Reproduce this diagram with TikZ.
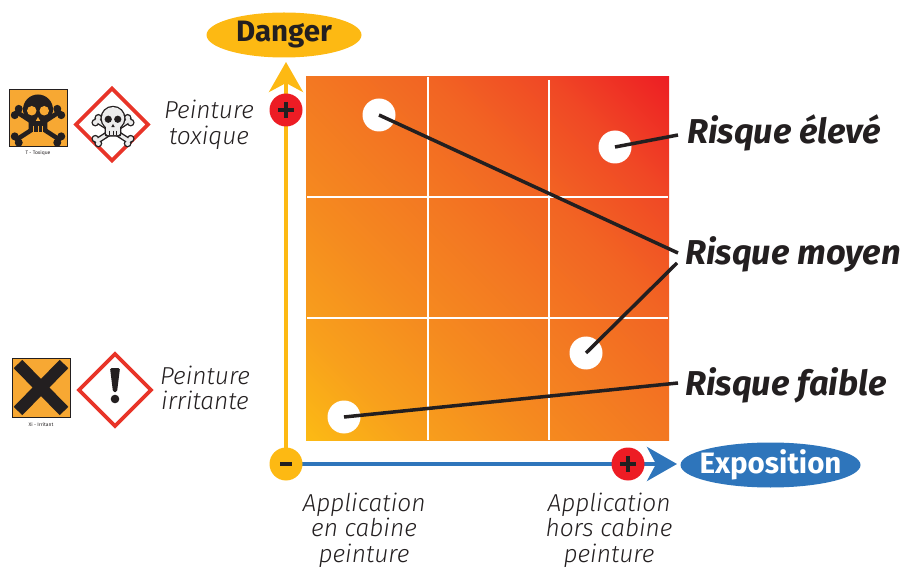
\documentclass[tikz,border=0pt]{standalone}
\usepackage{fontspec}
\setmainfont{Fira Sans}
\newfontfamily\lightfont{Fira Sans Light}
\usetikzlibrary{arrows.meta,shapes.geometric}
\definecolor{ink}{RGB}{35,31,32}
\definecolor{axY}{RGB}{253,185,19}
\definecolor{axB}{RGB}{46,117,187}
\definecolor{signR}{RGB}{237,28,36}
\definecolor{gA}{RGB}{252,186,20}
\definecolor{gB}{RGB}{248,160,28}
\definecolor{gC}{RGB}{245,138,31}
\definecolor{gD}{RGB}{243,120,34}
\definecolor{gE}{RGB}{242,100,35}
\definecolor{gF}{RGB}{240,72,37}
\definecolor{gG}{RGB}{237,30,36}
\definecolor{pictoO}{RGB}{247,168,51}
\definecolor{ghsR}{RGB}{232,52,40}
\pgfdeclareverticalshading{riskgrad}{100bp}{color(0bp)=(gA); color(14.6bp)=(gA); color(25.2bp)=(gB); color(38bp)=(gC); color(50bp)=(gD); color(62bp)=(gE); color(73.4bp)=(gF); color(85.4bp)=(gG); color(100bp)=(gG)}
\newcommand\mySkull[4]{%
 \begin{scope}[shift={#1},scale=#2]
  \draw[line width=4.5pt,#3,line cap=round] (-17,-4) -- (17,18) (17,-4) -- (-17,18);
  \foreach \p in {(-18.6,-1.5),(-15.4,-6.5),(15.4,20.5),(18.6,15.5),(18.6,-1.5),(15.4,-6.5),(-15.4,20.5),(-18.6,15.5)}
    \fill[#3] \p circle (3.2);
  \fill[#3] (0,-6) circle (12);
  \fill[#3,rounded corners=2pt] (-7.5,0) rectangle (7.5,12);
  \fill[#4] (-5,-5) circle (3.8) (5,-5) circle (3.8);
  \fill[#4] (0,0) -- (-1.8,3.2) -- (1.8,3.2) -- cycle;
  \draw[#4,line width=1pt] (-3.5,7) -- (-3.5,12) (0,7) -- (0,12) (3.5,7) -- (3.5,12);
 \end{scope}}
\newcommand\ghsSkull[2]{%
 \begin{scope}[shift={#1},scale=#2]
  \draw[line width=6pt,ink,line cap=round] (-17,-4) -- (17,18) (17,-4) -- (-17,18);
  \foreach \p in {(-18.6,-1.5),(-15.4,-6.5),(15.4,20.5),(18.6,15.5),(18.6,-1.5),(15.4,-6.5),(-15.4,20.5),(-18.6,15.5)}
    \fill[ink] \p circle (4.1);
  \draw[line width=3.2pt,gray!15,line cap=round] (-17,-4) -- (17,18) (17,-4) -- (-17,18);
  \foreach \p in {(-18.6,-1.5),(-15.4,-6.5),(15.4,20.5),(18.6,15.5),(18.6,-1.5),(15.4,-6.5),(-15.4,20.5),(-18.6,15.5)}
    \fill[gray!15] \p circle (2.6);
  \fill[ink] (0,-6) circle (13.2);
  \fill[ink,rounded corners=2pt] (-8.7,-1) rectangle (8.7,13.2);
  \fill[gray!15] (0,-6) circle (11.8);
  \fill[gray!15,rounded corners=1.5pt] (-7.3,0) rectangle (7.3,11.8);
  \fill[ink] (-5,-5) circle (3.8) (5,-5) circle (3.8);
  \fill[ink] (0,0) -- (-1.8,3.2) -- (1.8,3.2) -- cycle;
  \draw[ink,line width=0.9pt] (-3.5,7) -- (-3.5,12) (0,7) -- (0,12) (3.5,7) -- (3.5,12);
 \end{scope}}
\begin{document}
\begin{tikzpicture}[x=1pt,y=-1pt,
  dot/.style={circle,fill=white,minimum size=33pt,inner sep=0pt},
  leader/.style={line width=3.5pt,draw=ink},
  risk/.style={font=\fontsize{34.5}{38}\selectfont\bfseries\itshape,text=ink,inner sep=0pt,anchor=base west},
  lbl/.style={font=\fontsize{24.5}{25.5}\selectfont\lightfont\itshape,text=ink,align=center,inner sep=0pt},
  sign/.style={circle,minimum size=33pt,inner sep=0pt},
  axlab/.style={ellipse,minimum height=45pt,inner xsep=-12pt,inner ysep=0pt,font=\fontsize{29.5}{32}\selectfont\bfseries},
  axarrow/.style={line width=4pt,-{Stealth[length=30pt,width=34pt,inset=9pt]}},
  tiny/.style={font=\fontsize{5}{6}\selectfont,text=ink,inner sep=0pt}
  ]
\useasboundingbox (0,0) rectangle (905,569);
% grid
\fill[shading=riskgrad,shading angle=-45] (306,77) rectangle (669,440);
\draw[white,line width=2.5pt] (428,77) -- (428,440) (549,80) -- (549,440) (307,197) -- (668,197) (307,318) -- (668,318);
% risk points
\node[dot] (c1) at (379,115) {};
\node[dot] (c2) at (615,147) {};
\node[dot] (c3) at (586,353) {};
\node[dot] (c4) at (344,417) {};
\node[risk] (rh) at (687,144) {Risque élevé};
\node[risk] (rm) at (685,265) {Risque moyen};
\node[risk] (rl) at (685,395) {Risque faible};
\coordinate (eh) at (678,135);
\coordinate (em1) at (678,253);
\coordinate (em2) at (677,263);
\coordinate (el) at (678,383);
\draw[leader] (c1.center) -- (em1);
\draw[leader] (c2.center) -- (eh);
\draw[leader] (c3.center) -- (em2);
\draw[leader] (c4.center) -- (el);
% axes
\coordinate (orig) at (286,464);
\coordinate (ytip) at (286,62);
\coordinate (xtip) at (677,464);
\draw[axarrow,axB] (orig) -- (xtip);
\draw[axarrow,axY] (orig) -- (ytip);
\node[sign,fill=axY] (mn) at (orig) {};
\draw[ink,line width=4pt] (mn.center) ++(-6,0) -- ++(12,0);
\node[sign,fill=signR] (py) at (286,110) {};
\draw[ink,line width=3.5pt] (py.center) ++(-8,0) -- ++(16,0) (py.center) ++(0,-8) -- ++(0,16);
\node[sign,fill=signR] (px) at (628,464) {};
\draw[ink,line width=3.5pt] (px.center) ++(-8,0) -- ++(16,0) (px.center) ++(0,-8) -- ++(0,16);
\node[axlab,fill=axY,minimum width=155pt,text=ink] (dg) at (284,35) {Danger};
\node[axlab,fill=axB,minimum width=180pt,text=white] (ex) at (770.5,465) {Exposition};
% axis texts
\node[lbl] (ac) at (364,530) {Application\\en cabine\\peinture};
\node[lbl] (ah) at (609,530) {Application\\hors cabine\\peinture};
\node[lbl] (pt) at (209,125) {Peinture\\toxique};
\node[lbl] (pi) at (205,388) {Peinture\\irritante};
% pictograms: toxic
\draw[ink,line width=0.8pt,fill=pictoO] (9,89) rectangle (67,146);
\mySkull{(38,117)}{1.25}{ink}{pictoO}
\node[tiny] (tt) at (38,153) {T - Toxique};
\draw[ghsR,line width=3.8pt,fill=white,line join=miter] (112,88.5) -- (148,124.5) -- (112,160.5) -- (76,124.5) -- cycle;
\ghsSkull{(113,124)}{0.95}
% pictograms: irritant
\draw[ink,line width=0.8pt,fill=pictoO] (12,358) rectangle (70,417);
\begin{scope}
\clip (12,358) rectangle (70,417);
\draw[ink,line width=12pt] (18,364) -- (64,411) (64,364) -- (18,411);
\end{scope}
\node[tiny] (xi) at (41,425) {Xi - Irritant};
\draw[ghsR,line width=3.8pt,fill=white,line join=miter] (115,354) -- (151,390) -- (115,426) -- (79,390) -- cycle;
\fill[ink,rounded corners=1.5pt] (110,368) -- (120,368) -- (117,392) -- (113,392) -- cycle;
\fill[ink] (115,399) circle (4.3);
\end{tikzpicture}
\end{document}
